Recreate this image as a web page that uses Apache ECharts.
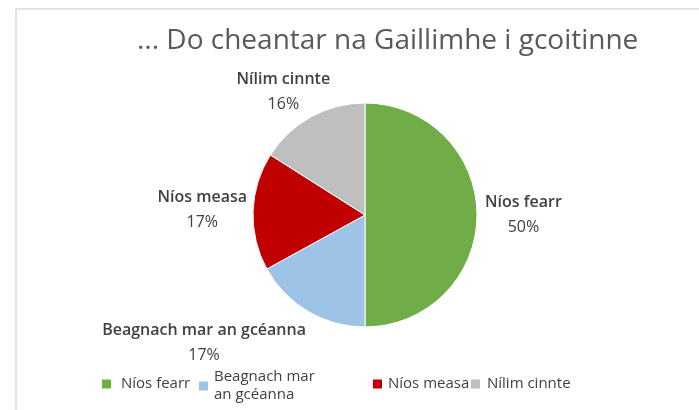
<!DOCTYPE html>
<html>
    <head>
        <meta charset="utf-8">
        <title>Do cheantar na Gaillimhe i gcoitinne</title>
        <script src="https://cdn.jsdelivr.net/npm/echarts@6/dist/echarts.min.js"></script>
        <style>
            html, body { margin: 0; padding: 0; background: #fff; }
            #chart { width: 699px; height: 410px; }
        </style>
    </head>
    <body>
        <div id="chart"></div>
        <script type="text/javascript">
            // 数据
            var categories = ['Níos fearr', 'Beagnach mar an gcéanna', 'Níos measa', 'Nílim cinnte'];
            var percents = [50, 17, 17, 16];
            var colors = ['#70AD47', '#9DC3E6', '#C00000', '#BFBFBF'];
            var legendNames = ['Níos fearr', 'Beagnach mar\nan gcéanna', 'Níos measa', 'Nílim cinnte'];
            var legendLeft = [100, 197, 371, 469];
            var legendTop = [375, 368, 375, 375];
            var legendPad = [4, 0, 0, 1];
            // 标签微调（Excel 的标签离饼更远）
            var labelShift = [[-7, 0], [10, 26], [9, -1], [31, -20]];

            var fontFamily = '"Open Sans", sans-serif';

            var pieData = categories.map(function (name, i) {
                return { name: name, value: percents[i], itemStyle: { color: colors[i] } };
            });

            // 图例：每项单独放，位置跟原图对齐
            var legends = categories.map(function (name, i) {
                return {
                    data: [name],
                    left: legendLeft[i],
                    top: legendTop[i],
                    padding: 0,
                    itemWidth: 11,
                    itemHeight: 11,
                    icon: 'rect',
                    formatter: function () { return legendNames[i]; },
                    textStyle: {
                        fontFamily: fontFamily,
                        fontSize: 15,
                        color: '#404040',
                        lineHeight: 18,
                        padding: [0, 0, 0, legendPad[i]]
                    }
                };
            });

            var myChart = echarts.init(document.getElementById('chart'));
            myChart.setOption({
                animation: false,
                title: {
                    text: '... Do cheantar na Gaillimhe i gcoitinne',
                    left: 137,
                    top: 27,
                    padding: 0,
                    textStyle: {
                        fontFamily: fontFamily,
                        fontSize: 28,
                        fontWeight: 'normal',
                        color: '#595959'
                    }
                },
                legend: legends,
                graphic: [{
                    type: 'polyline',
                    shape: { points: [[16, 410], [16, 9], [699, 9]] },
                    style: { stroke: '#D9D9D9', lineWidth: 1.5, fill: null },
                    silent: true
                }],
                series: [{
                    type: 'pie',
                    center: [365, 215],
                    radius: 112,
                    startAngle: 90,
                    clockwise: true,
                    data: pieData,
                    itemStyle: { borderColor: '#fff', borderWidth: 1 },
                    label: {
                        show: true,
                        position: 'outside',
                        formatter: '{n|{b}}\n{p|{c}%}',
                        rich: {
                            n: { fontFamily: fontFamily, fontSize: 16, fontWeight: 600, color: '#404040', lineHeight: 25, align: 'center' },
                            p: { fontFamily: fontFamily, fontSize: 16, color: '#404040', lineHeight: 25, align: 'center' }
                        }
                    },
                    labelLine: { show: false, length: 6, length2: 4 },
                    labelLayout: function (params) {
                        var s = labelShift[params.dataIndex];
                        return { dx: s[0], dy: s[1] };
                    },
                    emphasis: { disabled: true }
                }]
            });
        </script>
    </body>
</html>
